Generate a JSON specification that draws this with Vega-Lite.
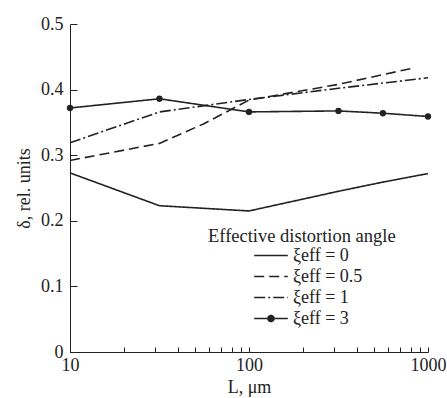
{
  "$schema": "https://vega.github.io/schema/vega-lite/v6.json",
  "width": 358,
  "height": 328,
  "autosize": {"type": "none"},
  "padding": {"left": 70, "top": 24, "right": 19, "bottom": 46},
  "background": "white",
  "config": {
    "view": {"stroke": null},
    "font": "Liberation Serif",
    "axis": {
      "grid": false,
      "domainColor": "#222",
      "tickColor": "#222",
      "labelColor": "#222",
      "titleColor": "#222",
      "labelFont": "Liberation Serif",
      "titleFont": "Liberation Serif",
      "labelFontSize": 18,
      "titleFontSize": 18,
      "titleFontWeight": "normal"
    }
  },
  "data": {
    "values": [
      {"L": 10, "d": 0.273, "s": "ξeff = 0"},
      {"L": 31.6, "d": 0.223, "s": "ξeff = 0"},
      {"L": 100, "d": 0.215, "s": "ξeff = 0"},
      {"L": 316, "d": 0.245, "s": "ξeff = 0"},
      {"L": 560, "d": 0.259, "s": "ξeff = 0"},
      {"L": 1000, "d": 0.272, "s": "ξeff = 0"},
      {"L": 10, "d": 0.292, "s": "ξeff = 0.5"},
      {"L": 31.6, "d": 0.318, "s": "ξeff = 0.5"},
      {"L": 56, "d": 0.348, "s": "ξeff = 0.5"},
      {"L": 100, "d": 0.384, "s": "ξeff = 0.5"},
      {"L": 316, "d": 0.408, "s": "ξeff = 0.5"},
      {"L": 800, "d": 0.432, "s": "ξeff = 0.5"},
      {"L": 10, "d": 0.319, "s": "ξeff = 1"},
      {"L": 31.6, "d": 0.366, "s": "ξeff = 1"},
      {"L": 100, "d": 0.385, "s": "ξeff = 1"},
      {"L": 316, "d": 0.402, "s": "ξeff = 1"},
      {"L": 1000, "d": 0.418, "s": "ξeff = 1"},
      {"L": 10, "d": 0.372, "s": "ξeff = 3"},
      {"L": 31.6, "d": 0.386, "s": "ξeff = 3"},
      {"L": 100, "d": 0.366, "s": "ξeff = 3"},
      {"L": 316, "d": 0.3675, "s": "ξeff = 3"},
      {"L": 560, "d": 0.364, "s": "ξeff = 3"},
      {"L": 1000, "d": 0.359, "s": "ξeff = 3"}
    ]
  },
  "encoding": {
    "x": {
      "field": "L",
      "type": "quantitative",
      "scale": {"type": "log", "domain": [10, 1000], "nice": false},
      "axis": {
        "title": "L, μm",
        "values": [10, 20, 30, 40, 50, 60, 70, 80, 90, 100, 200, 300, 400, 500, 600, 700, 800, 900, 1000],
        "labelExpr": "(datum.value == 10 || datum.value == 100 || datum.value == 1000) ? datum.label : ''",
        "format": "d",
        "tickSize": -5,
        "labelPadding": 9,
        "labelFlush": false,
        "titlePadding": 4
      }
    },
    "y": {
      "field": "d",
      "type": "quantitative",
      "scale": {"domain": [0, 0.5], "nice": false},
      "axis": {
        "title": "δ, rel. units",
        "values": [0, 0.1, 0.2, 0.3, 0.4, 0.5],
        "format": ".1~f",
        "tickSize": -7,
        "labelPadding": 14,
        "titlePadding": 7
      }
    }
  },
  "layer": [
    {
      "mark": {"type": "line", "strokeWidth": 1.6, "color": "#222"},
      "encoding": {
        "detail": {"field": "s"},
        "strokeDash": {
          "field": "s",
          "type": "nominal",
          "scale": {
            "domain": ["ξeff = 0", "ξeff = 0.5", "ξeff = 1", "ξeff = 3"],
            "range": [[1, 0], [10, 5], [11, 3, 2, 3], [1, 0]]
          },
          "legend": {
            "title": "Effective distortion angle",
            "orient": "none",
            "legendX": 138,
            "legendY": 203,
            "padding": 0,
            "titleFont": "Liberation Serif",
            "titleFontSize": 18.5,
            "titleFontWeight": "normal",
            "titleColor": "#222",
            "titleLimit": 400,
            "titlePadding": 1,
            "labelFont": "Liberation Serif",
            "labelFontSize": 18,
            "labelColor": "#222",
            "labelLimit": 300,
            "symbolSize": 144,
            "symbolStrokeWidth": 1.6,
            "symbolStrokeColor": "#222",
            "symbolType": "M-2.8,0L2.8,0",
            "symbolOffset": 54,
            "labelOffset": 13,
            "rowPadding": 3,
            "encode": {
              "symbols": {
                "update": {
                  "shape": {"signal": "datum.value == 'ξeff = 3' ? 'M-2.8,0L2.8,0M-0.5,0A0.5,0.5,0,1,1,0.5,0A0.5,0.5,0,1,1,-0.5,0Z' : 'M-2.8,0L2.8,0'"},
                  "fill": {"signal": "datum.value == 'ξeff = 3' ? '#222' : 'transparent'"},
                  "stroke": {"value": "#222"},
                  "strokeWidth": {"value": 1.6},
                  "opacity": {"value": 1}
                }
              }
            }
          }
        }
      }
    },
    {
      "transform": [{"filter": "datum.s == 'ξeff = 3'"}],
      "mark": {"type": "point", "filled": true, "size": 40, "color": "#222", "opacity": 1}
    }
  ]
}
